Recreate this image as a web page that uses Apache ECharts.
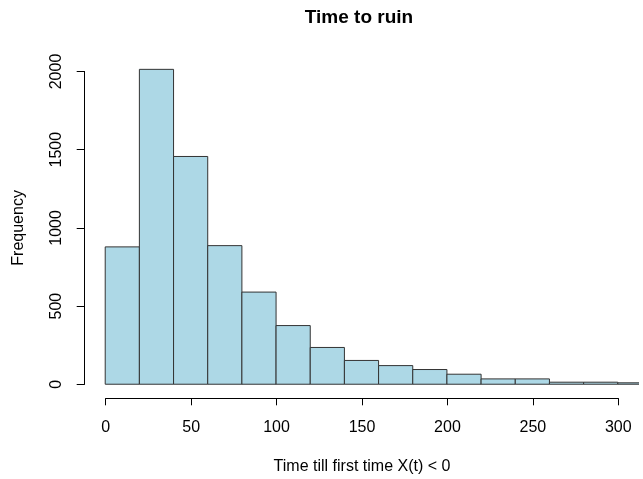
<!DOCTYPE html>
<html>
<head>
<meta charset="utf-8">
<script src="https://cdn.jsdelivr.net/npm/echarts@6/dist/echarts.min.js"></script>
<style>html,body{margin:0;padding:0;background:#fff;}#c{width:643px;height:479px;}</style>
</head>
<body>
<div id="c"></div>
<script>
// Histogram bins (break points) and counts
var breaks = [0,20,40,60,80,100,120,140,160,180,200,220,240,260,280,300,320];
var counts = [878, 2013, 1456, 886, 589, 375, 235, 152, 119, 94, 64, 34, 34, 13, 13, 9];
var xTicks = [0, 50, 100, 150, 200, 250, 300];
var yTicks = [0, 500, 1000, 1500, 2000];

var titleText = 'Time to ruin';
var xLabel = 'Time till first time X(t) < 0';
var yLabel = 'Frequency';

var FONT = '"Liberation Sans", Arial, sans-serif';
var binData = counts.map(function (c, i) { return [breaks[i], breaks[i + 1], c]; });

var chart = echarts.init(document.getElementById('c'), null, {renderer: 'canvas'});
chart.setOption({
  animation: false,
  backgroundColor: '#ffffff',
  grid: [
    {left: 84.7, top: 40.1, width: 553.6, height: 358.2},
    {left: 105.7, top: 390, width: 512.6, height: 8.3},
    {left: 84.7, top: 71.5, width: 10, height: 312.8}
  ],
  xAxis: [
    {gridIndex: 0, type: 'value', min: -12, max: 312, show: false},
    {gridIndex: 1, type: 'value', min: xTicks[0], max: xTicks[xTicks.length - 1], interval: 50,
     axisLine: {show: true, lineStyle: {color: '#000', width: 1}},
     axisTick: {show: true, length: 7, lineStyle: {color: '#000'}},
     axisLabel: {show: true, fontSize: 16, color: '#000', fontFamily: FONT, margin: 21,
                 showMinLabel: true, showMaxLabel: true,
                 formatter: function (v) { return String(v); }},
     splitLine: {show: false},
     name: xLabel, nameLocation: 'middle', nameGap: 60,
     nameTextStyle: {fontSize: 16, color: '#000', fontFamily: FONT}},
    {gridIndex: 2, type: 'value', show: false}
  ],
  yAxis: [
    {gridIndex: 0, type: 'value', min: -90, max: 2200, show: false},
    {gridIndex: 1, type: 'value', show: false},
    {gridIndex: 2, type: 'value', min: yTicks[0], max: yTicks[yTicks.length - 1], interval: 500,
     axisLine: {show: true, lineStyle: {color: '#000', width: 1}},
     axisTick: {show: true, length: 8, lineStyle: {color: '#000'}},
     axisLabel: {show: true, fontSize: 16, color: '#000', fontFamily: FONT, rotate: 90, margin: 20,
                 showMinLabel: true, showMaxLabel: true,
                 formatter: function (v) { return String(v); }},
     splitLine: {show: false},
     name: yLabel, nameLocation: 'middle', nameGap: 58,
     nameTextStyle: {fontSize: 16, color: '#000', fontFamily: FONT}}
  ],
  graphic: [
    {type: 'text', x: 359, y: 18,
     style: {text: titleText, textAlign: 'center', textVerticalAlign: 'middle',
             font: 'bold 19px ' + FONT, fill: '#000'}}
  ],
  series: [{
    type: 'custom',
    xAxisIndex: 0, yAxisIndex: 0,
    clip: true,
    data: binData,
    encode: {x: [0, 1], y: 2},
    renderItem: function (params, api) {
      var p0 = api.coord([api.value(0), api.value(2)]);
      var p1 = api.coord([api.value(1), 0]);
      return {
        type: 'rect',
        shape: {x: p0[0], y: p0[1], width: p1[0] - p0[0], height: p1[1] - p0[1]},
        style: {fill: '#ADD8E6', stroke: '#333', lineWidth: 1}
      };
    }
  }]
});
</script>
</body>
</html>
